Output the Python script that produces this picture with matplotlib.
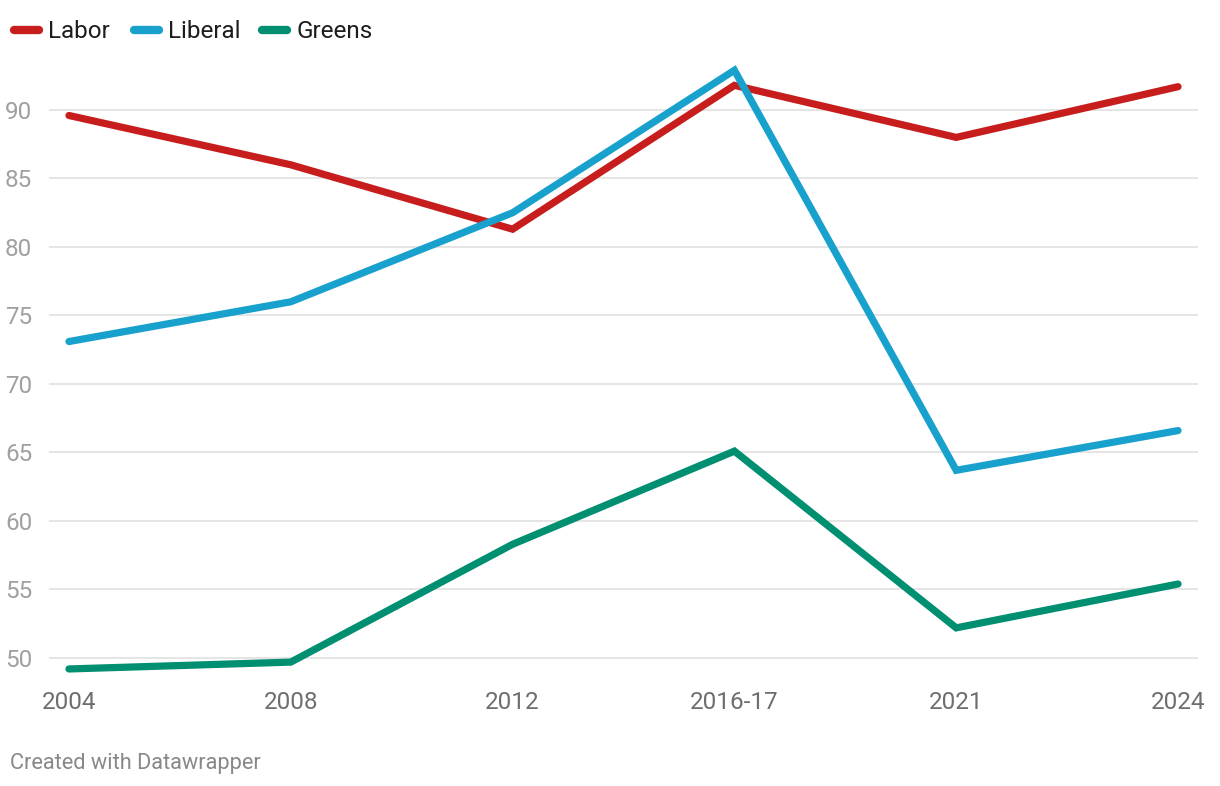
import matplotlib.pyplot as plt
from matplotlib.lines import Line2D

plt.rcParams['font.family'] = ['Roboto', 'DejaVu Sans']

years = ['2004', '2008', '2012', '2016-17', '2021', '2024']
labor = [89.6, 86.0, 81.3, 91.8, 88.0, 91.7]
liberal = [73.1, 76.0, 82.5, 92.9, 63.7, 66.6]
greens = [49.2, 49.7, 58.3, 65.1, 52.2, 55.4]

names = ['Labor', 'Liberal', 'Greens']
colors = ['#c71e1d', '#18a1cd', '#008f70']
series = [labor, liberal, greens]

W, H = 1220, 786
fig = plt.figure(figsize=(W / 100, H / 100), dpi=100)
ax = fig.add_axes([49 / W, 1 - 680 / H, (1198 - 49) / W, 620 / H])

x = list(range(len(years)))
for vals, c in zip(series, colors):
    ax.plot(x, vals, color=c, lw=5.2, solid_capstyle='round', solid_joinstyle='miter', zorder=3)

ax.set_xlim(-0.09, 5.09)
ax.set_ylim(50 - 22 / 13.7, 90 + 50 / 13.7)
ax.set_yticks([50, 55, 60, 65, 70, 75, 80, 85, 90])
ax.grid(axis='y', color='#e3e3e3', lw=1.3)
ax.set_axisbelow(True)
for s in ax.spines.values():
    s.set_visible(False)
ax.tick_params(axis='both', length=0)
ax.set_yticklabels([str(v) for v in ax.get_yticks().astype(int)], fontsize=17.5, color='#a0a0a0')
ax.tick_params(axis='y', pad=12)
ax.set_xticks(x)
ax.set_xticklabels(years, fontsize=17.5, color='#6e6e6e')
ax.tick_params(axis='x', pad=8)

# legend
lx = [10, 130, 258]
for xx, nm, c in zip(lx, names, colors):
    fig.add_artist(Line2D([(xx + 4) / W, (xx + 29) / W], [1 - 30 / H] * 2, color=c, lw=6,
                          solid_capstyle='round', transform=fig.transFigure))
    fig.text((xx + 38) / W, 1 - 32 / H, nm, fontsize=17.5, color='#1d1d1d', va='center', ha='left')

fig.text(10 / W, 1 - 763 / H, 'Created with Datawrapper', fontsize=15.7, color='#888888', va='center', ha='left')

fig.savefig('out.png', dpi=100)
